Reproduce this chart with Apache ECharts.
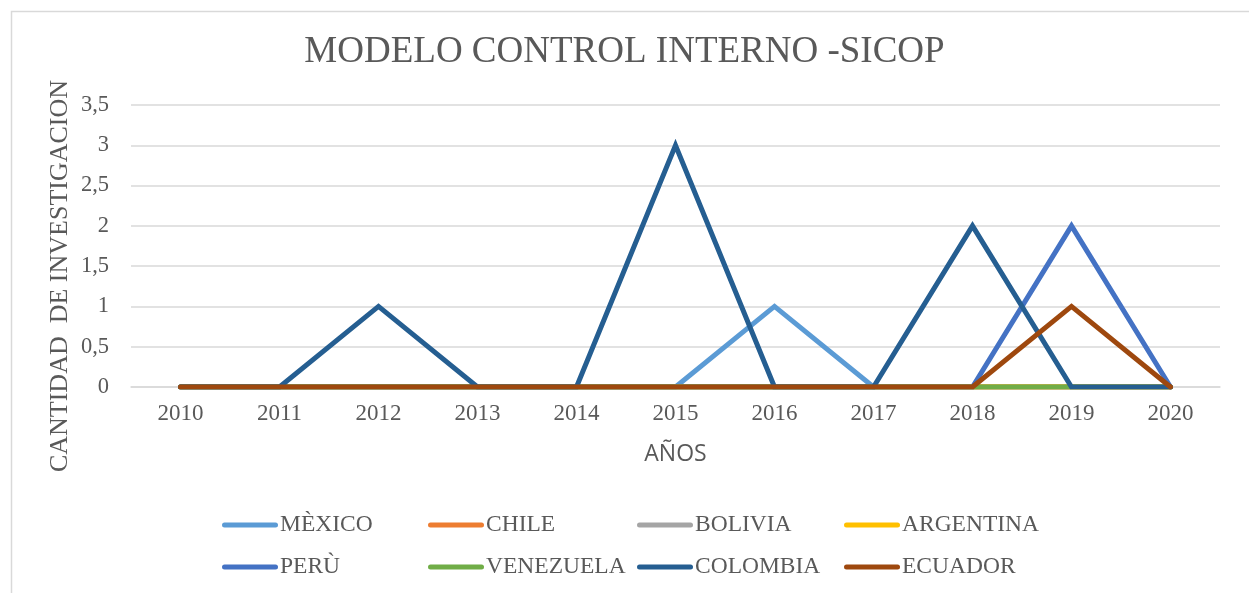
<!DOCTYPE html>
<html>
<head>
<meta charset="utf-8">
<script src="https://cdn.jsdelivr.net/npm/echarts@6/dist/echarts.min.js"></script>
<style>
  html, body { margin: 0; padding: 0; background: #fff; }
  #chart { width: 1249px; height: 593px; }
</style>
</head>
<body>
<div id="chart"></div>
<script>
// datos
var years = ["2010", "2011", "2012", "2013", "2014", "2015", "2016", "2017", "2018", "2019", "2020"];
var countries = ["MÈXICO", "CHILE", "BOLIVIA", "ARGENTINA", "PERÙ", "VENEZUELA", "COLOMBIA", "ECUADOR"];
var mexico    = [0, 0, 0, 0, 0, 0, 1, 0, 0, 0, 0];
var chile     = [0, 0, 0, 0, 0, 0, 0, 0, 0, 0, 0];
var bolivia   = [0, 0, 0, 0, 0, 0, 0, 0, 0, 0, 0];
var argentina = [0, 0, 0, 0, 0, 0, 0, 0, 0, 0, 0];
var peru      = [0, 0, 0, 0, 0, 0, 0, 0, 0, 2, 0];
var venezuela = [0, 0, 0, 0, 0, 0, 0, 0, 0, 0, 0];
var colombia  = [0, 0, 1, 0, 0, 3, 0, 0, 2, 0, 0];
var ecuador   = [0, 0, 0, 0, 0, 0, 0, 0, 0, 1, 0];
var values = [mexico, chile, bolivia, argentina, peru, venezuela, colombia, ecuador];
var colors = ["#5B9BD5", "#ED7D31", "#A5A5A5", "#FFC000", "#4472C4", "#70AD47", "#255E91", "#9E480E"];

var serif = "'Liberation Serif', 'Times New Roman', serif";
var gray = "#595959";

var series = countries.map(function (name, i) {
  return {
    name: name,
    type: "line",
    data: values[i],
    symbol: "none",
    lineStyle: { width: 5, color: colors[i], cap: "round", join: "miter" },
    itemStyle: { color: colors[i] }
  };
});

// leyenda: 4 columnas de 2 filas
var legendCols = [222, 428, 637, 844];
var legends = legendCols.map(function (x, c) {
  return {
    orient: "vertical",
    left: x,
    top: 513,
    padding: 0,
    itemGap: 18,
    itemWidth: 56,
    itemHeight: 24,
    data: [countries[c], countries[c + 4]],
    icon: "path://M2.5,0 L53.5,0 A2.5,2.5 0 0 1 53.5,5 L2.5,5 A2.5,2.5 0 0 1 2.5,0 Z",
    textStyle: { fontFamily: serif, fontSize: 23.5, lineHeight: 24, color: gray, padding: [0, 0, 0, -3] },
    selectedMode: false
  };
});

var chart = echarts.init(document.getElementById("chart"));
chart.setOption({
  animation: false,
  color: colors,
  title: {
    text: "MODELO CONTROL INTERNO -SICOP",
    left: "center",
    top: 29,
    textStyle: { fontFamily: serif, fontSize: 37, fontWeight: "normal", color: gray }
  },
  graphic: [{
    type: "rect",
    left: 9,
    top: 9,
    shape: { width: 1239, height: 600 },
    style: { fill: "none", stroke: "#d9d9d9", lineWidth: 1.5 },
    silent: true
  }, {
    // titulo del eje vertical
    type: "text",
    x: 60,
    y: 276,
    rotation: Math.PI / 2,
    style: {
      text: "CANTIDAD  DE INVESTIGACION",
      font: "26px " + serif,
      fill: gray,
      align: "center",
      verticalAlign: "middle"
    },
    silent: true
  }],
  legend: legends,
  grid: { left: 131, right: 29, top: 105, bottom: 206 },
  xAxis: {
    type: "category",
    data: years,
    boundaryGap: true,
    name: "AÑOS",
    nameLocation: "middle",
    nameGap: 56,
    nameTextStyle: { fontFamily: "'Open Sans', 'Liberation Sans', sans-serif", fontSize: 23, color: gray },
    axisLine: { lineStyle: { color: "#d9d9d9", width: 1.5 } },
    axisTick: { show: false },
    axisLabel: { fontFamily: serif, fontSize: 23, color: gray, margin: 15 }
  },
  yAxis: {
    type: "value",
    min: 0,
    max: 3.5,
    interval: 0.5,
    axisLine: { show: false },
    axisTick: { show: false },
    splitLine: { lineStyle: { color: "#d9d9d9", width: 1.5 } },
    axisLabel: {
      fontFamily: serif,
      fontSize: 22.5,
      color: gray,
      margin: 22,
      formatter: function (v) { return String(v).replace(".", ","); }
    }
  },
  series: series
});
</script>
</body>
</html>
